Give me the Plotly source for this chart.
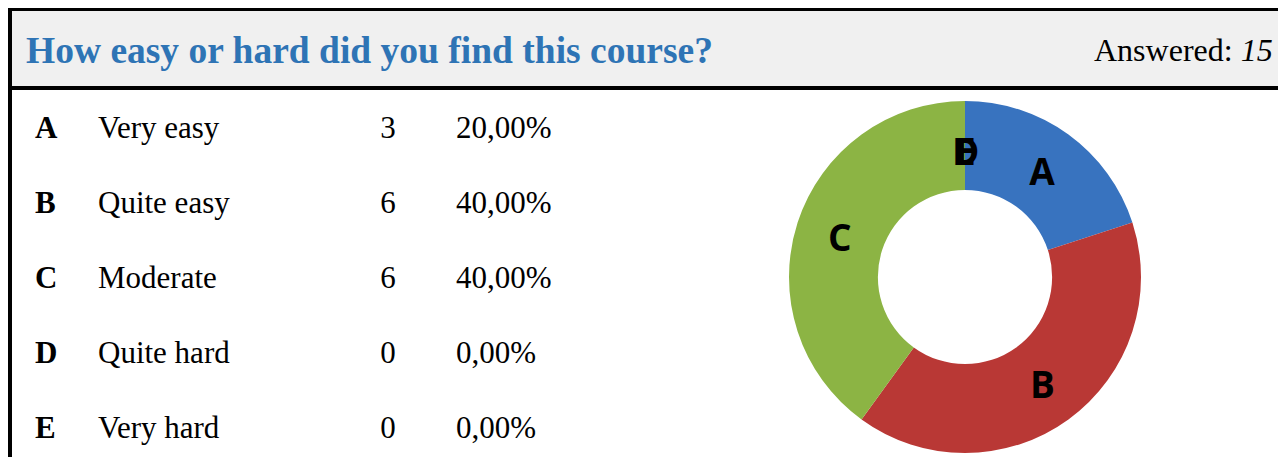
import math
import plotly.graph_objects as go

# ---- data ----
letters = ["A", "B", "C", "D", "E"]
answers = ["Very easy", "Quite easy", "Moderate", "Quite hard", "Very hard"]
counts = [3, 6, 6, 0, 0]
slice_colors = ["#3873bf", "#b93835", "#8cb444", "#8064a2", "#4bacc6"]
title_text = "How easy or hard did you find this course?"
answered_label = "Answered:"

total = sum(counts)
percents = [f"{c / total * 100:.2f}%".replace(".", ",") for c in counts]

# the page body has an 8px default margin: the figure starts at (8, 8);
# keep the page from overflowing the window (no scrollbars)
OFF = 8
W, H = 1286 - OFF, 465 - 2 * OFF


def px(x):
    return (x - OFF) / W


def py(y):
    return 1 - (y - OFF) / H


fig = go.Figure()

# ---- table as text traces on a hidden cartesian axis ----
rows = list(range(len(letters)))
serif = "Liberation Serif, Times New Roman, serif"
tfont = dict(family=serif, size=31, color="black")
fig.add_trace(go.Scatter(x=[35] * 5, y=rows, text=letters, mode="text",
                         texttemplate="<b>%{text}</b>", textposition="middle right",
                         textfont=tfont, hoverinfo="skip", showlegend=False))
fig.add_trace(go.Scatter(x=[98] * 5, y=rows, text=answers, mode="text",
                         textposition="middle right",
                         textfont=tfont, hoverinfo="skip", showlegend=False))
fig.add_trace(go.Scatter(x=[388] * 5, y=rows, text=[str(c) for c in counts], mode="text",
                         textposition="middle center",
                         textfont=tfont, hoverinfo="skip", showlegend=False))
fig.add_trace(go.Scatter(x=[456] * 5, y=rows, text=percents, mode="text",
                         textposition="middle right",
                         textfont=tfont, hoverinfo="skip", showlegend=False))

# row 0 centre at ~130px (page), 75px per row
row0, step = 130, 75
fig.update_xaxes(range=[OFF, OFF + W], visible=False, fixedrange=True)
fig.update_yaxes(range=[(OFF + H - row0) / step, (OFF - row0) / step],
                 visible=False, fixedrange=True)

# ---- donut ----
cx, cy, R, hole = 965, 277, 176, 0.495
label_font = dict(family="Open Sans, Arial, sans-serif", size=37, color="black")
fig.add_trace(go.Pie(
    labels=letters, values=counts, hole=hole, sort=False,
    direction="clockwise", rotation=0,
    marker=dict(colors=slice_colors, line=dict(width=0)),
    textinfo="label", texttemplate="<b>%{label}</b>",
    textposition="inside", insidetextorientation="horizontal",
    textfont=label_font,
    domain=dict(x=[px(cx - R), px(cx + R)], y=[py(cy + R), py(cy - R)]),
    showlegend=False, hoverinfo="label+value+percent",
))

annotations = []
# zero-value slices get no text from the pie: label them at their angle
cum = 0
for lab, c in zip(letters, counts):
    mid = (cum + c / 2) / total * 2 * math.pi
    cum += c
    if c == 0:
        r = R * 0.72
        annotations.append(dict(
            text=f"<b>{lab}</b>", x=px(cx + r * math.sin(mid)), y=py(cy - r * math.cos(mid)),
            xref="paper", yref="paper", xanchor="center", yanchor="middle",
            showarrow=False, font=label_font))

shapes = [
    # header band
    dict(type="rect", xref="paper", yref="paper", x0=px(8), x1=1.0, y0=py(88), y1=1.0,
         fillcolor="#f0f0f0", line=dict(width=0), layer="below"),
    # top rule
    dict(type="rect", xref="paper", yref="paper", x0=px(8), x1=1.0, y0=py(11), y1=1.0,
         fillcolor="black", line=dict(width=0)),
    # header bottom rule
    dict(type="rect", xref="paper", yref="paper", x0=px(8), x1=1.0, y0=py(90), y1=py(86),
         fillcolor="black", line=dict(width=0)),
    # left rule
    dict(type="rect", xref="paper", yref="paper", x0=px(8), x1=px(12), y0=0, y1=1.0,
         fillcolor="black", line=dict(width=0)),
]

annotations += [
    dict(text=f"<b>{title_text}</b>", x=px(24), y=py(50), xref="paper", yref="paper",
         xanchor="left", yanchor="middle", showarrow=False,
         font=dict(family=serif, size=37.5, color="#2e74b5")),
    dict(text=f"{answered_label} <i>{total}</i>", x=px(1275), y=py(50), xref="paper", yref="paper",
         xanchor="right", yanchor="middle", showarrow=False,
         font=dict(family=serif, size=32, color="black")),
]

fig.update_layout(
    width=W, height=H, margin=dict(l=0, r=0, t=0, b=0),
    paper_bgcolor="white", plot_bgcolor="rgba(0,0,0,0)",
    shapes=shapes, annotations=annotations,
)

fig.write_html("out.html", config={"displayModeBar": False})
